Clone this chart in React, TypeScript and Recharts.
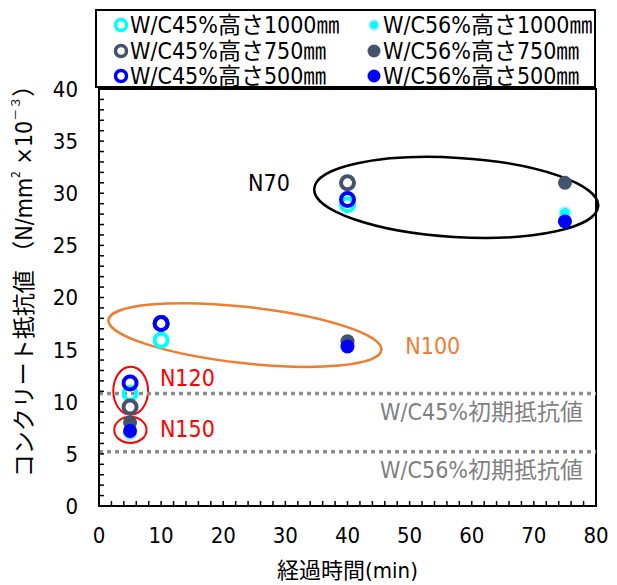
import React from "react";
import {
  ScatterChart, Scatter, XAxis, YAxis, ReferenceLine, ReferenceArea, ReferenceDot,
} from "recharts";

const FONT = "'Liberation Sans Narrow', 'DejaVu Sans Condensed', 'Noto Sans CJK JP', sans-serif";

// elapsed time (min) for each mix
const timesWC45 = [5, 10, 40];
const timesWC56 = [5, 40, 75];

// resistance values (N/mm2 x10^-3)
const wc45h1000 = [10.8, 15.9, 28.9];
const wc45h750 = [9.5, 17.5, 31.0];
const wc45h500 = [11.8, 17.5, 29.4];
const wc56h1000 = [6.9, 15.4, 28.1];
const wc56h750 = [8.0, 15.8, 31.0];
const wc56h500 = [7.2, 15.3, 27.3];

const xMajor = [0, 10, 20, 30, 40, 50, 60, 70, 80];
const yMajor = [0, 5, 10, 15, 20, 25, 30, 35, 40];
const xMinorStep = 2;
const yMinorStep = 1;

// initial resistance levels
const initialWC45 = 10.8;
const initialWC56 = 5.2;

const CYAN = "#00FFFF";
const GRAY = "#44546A";
const BLUE = "#0000FF";

type Series = { name: string; times: number[]; values: number[]; color: string; filled: boolean };

// legend order: row by row, two columns
const series: Series[] = [
  { name: "W/C45%高さ1000㎜", times: timesWC45, values: wc45h1000, color: CYAN, filled: false },
  { name: "W/C56%高さ1000㎜", times: timesWC56, values: wc56h1000, color: CYAN, filled: true },
  { name: "W/C45%高さ750㎜", times: timesWC45, values: wc45h750, color: GRAY, filled: false },
  { name: "W/C56%高さ750㎜", times: timesWC56, values: wc56h750, color: GRAY, filled: true },
  { name: "W/C45%高さ500㎜", times: timesWC45, values: wc45h500, color: BLUE, filled: false },
  { name: "W/C56%高さ500㎜", times: timesWC56, values: wc56h500, color: BLUE, filled: true },
];

// group outlines in data units, angle in degrees
const groups = [
  { label: "N70", color: "#000000", cx: 57.5, cy: 29.6, rx: 22.9, ry: 3.8, angle: 3.5, width: 2.5, lx: 24, ly: 31.0 },
  { label: "N100", color: "#ED7D31", cx: 23.5, cy: 16.4, rx: 22.1, ry: 2.7, angle: 6.3, width: 2.5, lx: 49.3, ly: 15.4 },
  { label: "N120", color: "#FF0000", cx: 5.1, cy: 11.05, rx: 2.8, ry: 2.3, angle: 0, width: 2, lx: 9.8, ly: 12.3 },
  { label: "N150", color: "#FF0000", cx: 5.05, cy: 7.3, rx: 2.6, ry: 1.25, angle: 0, width: 2, lx: 9.8, ly: 7.4 },
];

const rangeBy = (max: number, step: number) =>
  Array.from({ length: Math.round(max / step) + 1 }, (_, i) => i * step);

const TICK_GAP = 21;

function YTick(props: any) {
  const { x, y, payload } = props;
  const ax = x + TICK_GAP;
  return (
    <g>
      <line x1={ax} x2={ax + 5} y1={y} y2={y} stroke="#000" strokeWidth={1.5} />
      {yMajor.includes(payload.value) && (
        <text x={x} y={y} dy="0.36em" textAnchor="end" fontSize={22} fontFamily={FONT} fill="#000">
          {payload.value}
        </text>
      )}
    </g>
  );
}

function XTick(props: any) {
  const { x, y, payload } = props;
  const ay = y - TICK_GAP;
  return (
    <g>
      <line x1={x} x2={x} y1={ay} y2={ay - 5} stroke="#000" strokeWidth={1.5} />
      {xMajor.includes(payload.value) && (
        <text x={x} y={y} dy="0.72em" textAnchor="middle" fontSize={22} fontFamily={FONT} fill="#000">
          {payload.value}
        </text>
      )}
    </g>
  );
}

function Marker({ cx, cy, color, filled }: { cx: number; cy: number; color: string; filled: boolean }) {
  if (filled) {
    const halo = color === CYAN ? "#C4ECFF" : color;
    return <circle cx={cx} cy={cy} r={color === CYAN ? 6 : 7} fill={color} stroke={halo} strokeWidth={color === CYAN ? 2 : 0} />;
  }
  return <circle cx={cx} cy={cy} r={6.5} fill="none" stroke={color} strokeWidth={4} />;
}

const ellipseShape = (color: string, width: number, angle: number) => (p: any) => {
  const w = Math.abs(p.width), h = Math.abs(p.height);
  const cx = p.x + p.width / 2, cy = p.y + p.height / 2;
  return (
    <ellipse cx={cx} cy={cy} rx={w / 2} ry={h / 2} fill="none" stroke={color} strokeWidth={width}
      transform={`rotate(${angle} ${cx} ${cy})`} />
  );
};

const initLabel = (text: string) => (p: any) => {
  const vb = p.viewBox;
  return (
    <text x={vb.x + vb.width - 13} y={vb.y + 18} dy="0.36em" textAnchor="end" fontSize={23}
      fontFamily={FONT} fill="#7F7F7F">
      {text}
    </text>
  );
};

function YTitle(p: any) {
  const vb = p.viewBox;
  const x = vb.x + 24;
  const y = vb.y + vb.height / 2 - 22;
  return (
    <text x={x} y={y} transform={`rotate(-90 ${x} ${y})`} textAnchor="middle" dominantBaseline="central"
      fontSize={23} fontFamily={FONT} fill="#000">
      コンクリート抵抗値 （N/mm<tspan dy={-8} fontSize={12}>2</tspan>
      <tspan dy={8}> ×10</tspan><tspan dy={-8} fontSize={12}>－３</tspan><tspan dy={8}>）</tspan>
    </text>
  );
}

function XTitle(p: any) {
  const vb = p.viewBox;
  return (
    <text x={vb.x + vb.width / 2} y={vb.y + 64} textAnchor="middle" dominantBaseline="central"
      fontSize={22} fontFamily={FONT} fill="#000">
      経過時間(min)
    </text>
  );
}

function LegendBox() {
  return (
    <div style={{
      position: "absolute", left: 95, top: 9, width: 501, height: 79, boxSizing: "border-box",
      border: "2px solid #000", background: "#fff", fontFamily: FONT, fontSize: 23,
    }}>
      {series.map((s, i) => {
        const col = i % 2, row = Math.floor(i / 2);
        return (
          <div key={s.name} style={{
            position: "absolute", left: col ? 268 : 15, top: 2 + row * 25.5, height: 24,
            display: "flex", alignItems: "center", whiteSpace: "nowrap", lineHeight: "24px",
          }}>
            <svg width={18} height={18}>
              {s.filled
                ? <circle cx={9} cy={9} r={s.color === CYAN ? 5 : 6.5} fill={s.color}
                    stroke={s.color === CYAN ? "#C4ECFF" : "none"} strokeWidth={2} />
                : <circle cx={9} cy={9} r={5.5} fill="none" stroke={s.color} strokeWidth={3.5} />}
            </svg>
            <span>{s.name}</span>
          </div>
        );
      })}
    </div>
  );
}

export default function App() {
  return (
    <div style={{ position: "absolute", left: 0, top: 0, width: 617, height: 585, background: "#fff" }}>
      <ScatterChart width={617} height={585} margin={{ top: 89, right: 21, bottom: 0, left: 0 }}>
        <XAxis type="number" dataKey="t" domain={[0, 80]} ticks={rangeBy(80, xMinorStep)} interval={0}
          height={79} tickSize={0} tickMargin={TICK_GAP} tickLine={false} tick={<XTick />}
          axisLine={{ stroke: "#000", strokeWidth: 2 }} label={<XTitle />} allowDataOverflow />
        <YAxis type="number" dataKey="v" domain={[0, 40]} ticks={rangeBy(40, yMinorStep)} interval={0}
          width={99} tickSize={0} tickMargin={TICK_GAP} tickLine={false} tick={<YTick />}
          axisLine={{ stroke: "#000", strokeWidth: 2 }} label={<YTitle />} allowDataOverflow />

        <ReferenceArea x1={0} x2={80} y1={0} y2={40} fill="none" stroke="#000" strokeWidth={2} fillOpacity={0} />

        <ReferenceLine y={initialWC45} stroke="#8C8C8C" strokeWidth={3.5} strokeDasharray="4 4"
          label={initLabel("W/C45%初期抵抗値")} />
        <ReferenceLine y={initialWC56} stroke="#8C8C8C" strokeWidth={3.5} strokeDasharray="4 4"
          label={initLabel("W/C56%初期抵抗値")} />

        {groups.map((g) => (
          <ReferenceArea key={g.label} x1={g.cx - g.rx} x2={g.cx + g.rx} y1={g.cy - g.ry} y2={g.cy + g.ry}
            ifOverflow="visible" shape={ellipseShape(g.color, g.width, g.angle)} />
        ))}
        {groups.map((g) => (
          <ReferenceDot key={g.label + "-t"} x={g.lx} y={g.ly} ifOverflow="visible"
            shape={(p: any) => (
              <text x={p.cx} y={p.cy} dy="0.36em" fontSize={23} fontFamily={FONT} fill={g.color}>{g.label}</text>
            )} />
        ))}

        {series.map((s) => (
          <Scatter key={s.name} name={s.name} data={s.times.map((t, i) => ({ t, v: s.values[i] }))}
            isAnimationActive={false}
            shape={(p: any) => <Marker cx={p.cx} cy={p.cy} color={s.color} filled={s.filled} />} />
        ))}
      </ScatterChart>
      <LegendBox />
    </div>
  );
}
